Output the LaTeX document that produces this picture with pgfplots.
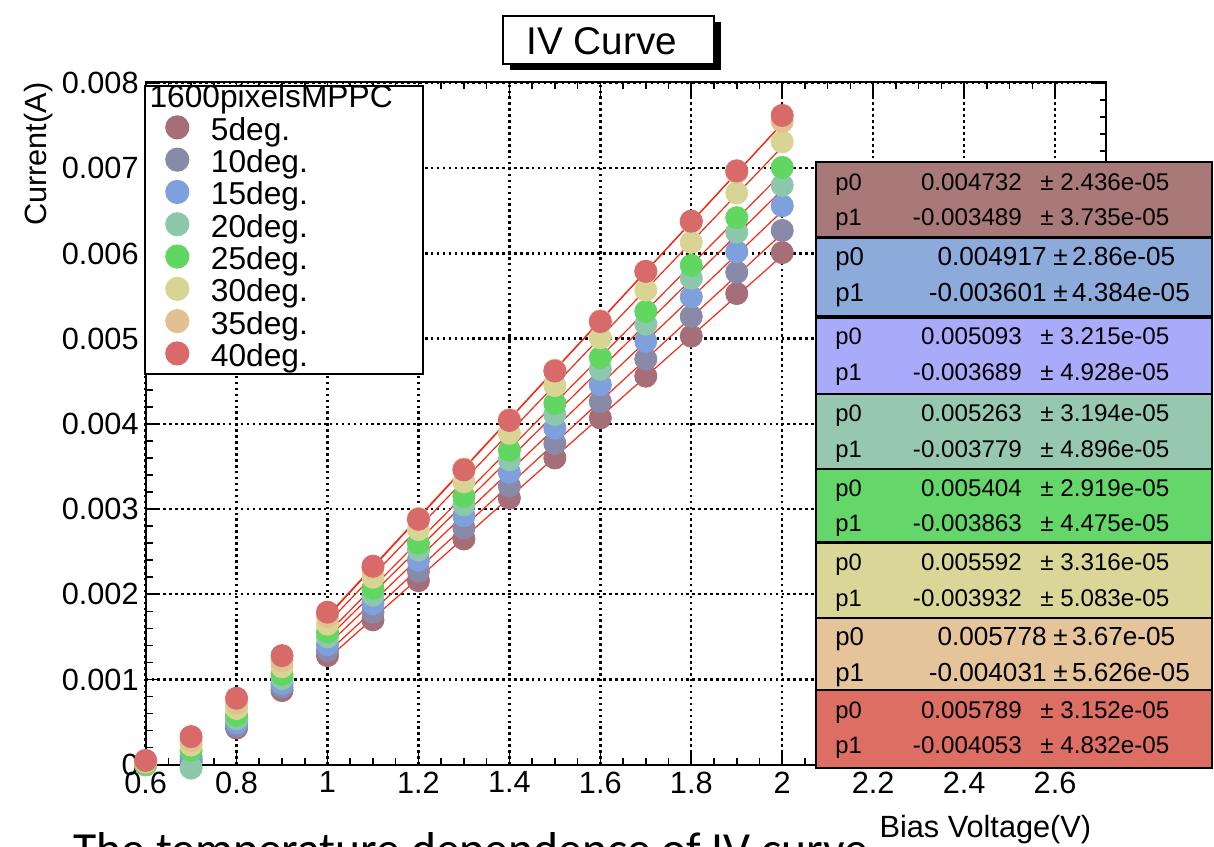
\documentclass[border=0pt]{standalone}
\usepackage{pgfplots}
\pgfplotsset{compat=1.18}
\usepackage{pgfplotstable}
\usepackage{fontspec}
\setmainfont{Liberation Sans}
\newfontfamily\carlito{Carlito}

\definecolor{m5}{RGB}{165,110,120}
\definecolor{m10}{RGB}{137,137,168}
\definecolor{m15}{RGB}{126,160,220}
\definecolor{m20}{RGB}{140,200,172}
\definecolor{m25}{RGB}{97,215,97}
\definecolor{m30}{RGB}{216,212,148}
\definecolor{m35}{RGB}{226,192,146}
\definecolor{m40}{RGB}{216,106,106}
\definecolor{b1}{RGB}{168,121,120}
\definecolor{b2}{RGB}{140,170,218}
\definecolor{b3}{RGB}{170,170,250}
\definecolor{b4}{RGB}{150,200,176}
\definecolor{b5}{RGB}{100,214,106}
\definecolor{b6}{RGB}{218,214,152}
\definecolor{b7}{RGB}{228,196,152}
\definecolor{b8}{RGB}{221,110,100}
\definecolor{fitred}{RGB}{245,40,20}

\pgfplotstableread{
x   d5       d10      d15      d20      d25      d30      d35      d40
0.6 0.00000  0.00000  0.00001  0.00000  0.00001  0.00003  0.00004  0.00005
0.7 0.00003  0.00006  0.00010  -0.00004 0.00017  0.00023  0.00028  0.00033
0.8 0.00043  0.00045  0.00049  0.00054  0.00058  0.00066  0.00072  0.00078
0.9 0.00087  0.00091  0.00095  0.00101  0.00106  0.00115  0.00122  0.00128
1.0 0.00128  0.00134  0.00141  0.00150  0.00156  0.00165  0.00174  0.00179
1.1 0.00170  0.00179  0.00189  0.00199  0.00207  0.00220  0.00231  0.00233
1.2 0.00216  0.00227  0.00240  0.00252  0.00260  0.00276  0.00289  0.00288
1.3 0.00265  0.00278  0.00292  0.00305  0.00315  0.00332  0.00347  0.00346
1.4 0.00313  0.00327  0.00343  0.00358  0.00369  0.00389  0.00405  0.00404
1.5 0.00360  0.00377  0.00395  0.00411  0.00424  0.00445  0.00463  0.00462
1.6 0.00407  0.00426  0.00446  0.00464  0.00478  0.00501  0.00521  0.00520
1.7 0.00456  0.00476  0.00497  0.00517  0.00532  0.00557  0.00579  0.00579
1.8 0.00503  0.00526  0.00549  0.00571  0.00586  0.00613  0.00637  0.00638
1.9 0.00553  0.00578  0.00602  0.00625  0.00642  0.00671  0.00695  0.00697
2.0 0.00601  0.00627  0.00656  0.00680  0.00701  0.00731  0.00755  0.00762
}\data

\newcommand\statbox[7]{%
  \filldraw[fill=#3,draw=black,line width=1pt] (824,#1) rectangle (1224,#2);
  \node[anchor=base west,inner sep=0pt,font=\fontsize{12}{14}\selectfont] at (843,#1+28) {p0};
  \node[anchor=base west,inner sep=0pt,font=\fontsize{12}{14}\selectfont] at (843,#1+64) {p1};
  \node[anchor=base east,inner sep=0pt,font=\fontsize{12.2}{14}\selectfont] at (1032,#1+28) {#4};
  \node[anchor=base east,inner sep=0pt,font=\fontsize{12.2}{14}\selectfont] at (1032,#1+64) {#6};
  \node[anchor=base west,inner sep=0pt,font=\fontsize{12.2}{14}\selectfont] at (1050,#1+28) {± #5};
  \node[anchor=base west,inner sep=0pt,font=\fontsize{12.2}{14}\selectfont] at (1050,#1+64) {± #7};
}
\newcommand\statboxL[7]{%
  \filldraw[fill=#3,draw=black,line width=1pt] (824,#1) rectangle (1224,#2);
  \node[anchor=base west,inner sep=0pt,font=\fontsize{13}{15}\selectfont] at (843,#1+28) {p0};
  \node[anchor=base west,inner sep=0pt,font=\fontsize{13}{15}\selectfont] at (843,#1+64) {p1};
  \node[anchor=base east,inner sep=0pt,font=\fontsize{13.2}{15}\selectfont] at (1057,#1+28) {#4};
  \node[anchor=base east,inner sep=0pt,font=\fontsize{13.2}{15}\selectfont] at (1057,#1+64) {#6};
  \node[anchor=base west,inner sep=0pt,font=\fontsize{13.2}{15}\selectfont] at (1063,#1+28) {±\,#5};
  \node[anchor=base west,inner sep=0pt,font=\fontsize{13.2}{15}\selectfont] at (1063,#1+64) {±\,#7};
}

\begin{document}
\begin{tikzpicture}
\begin{scope}[x=0.5pt,y=-0.5pt]
  \path[use as bounding box] (0,0) rectangle (1214,855);
  \node[anchor=base west,inner sep=0pt,font=\carlito\fontsize{24}{28}\selectfont] at (74,874) {The temperature dependence of IV curve};
\end{scope}
\begin{axis}[
  at={(73.5pt,-386pt)}, anchor=south west,
  scale only axis, width=485pt, height=344.5pt,
  xmin=0.6, xmax=2.713, ymin=0, ymax=0.00801,
  clip=false,
  scaled y ticks=false, scaled x ticks=false,
  xtick={0.6,0.8,1.0,1.2,1.4,1.6,1.8,2.0,2.2,2.4,2.6},
  xticklabels={0.6,0.8,1,1.2,1.4,1.6,1.8,2,2.2,2.4,2.6},
  ytick={0,0.001,0.002,0.003,0.004,0.005,0.006,0.007,0.008},
  yticklabels={0,0.001,0.002,0.003,0.004,0.005,0.006,0.007,0.008},
  minor x tick num=3, minor y tick num=4,
  tick align=inside,
  major tick length=7pt, minor tick length=3.5pt,
  tick style={black,line width=0.8pt},
  axis line style={black,line width=1pt},
  grid=major,
  major grid style={black,line width=1.2pt,dash pattern=on 1.3pt off 1.7pt},
  tick label style={font=\fontsize{15.5}{17}\selectfont},
  legend cell align=left,
  legend style={at={(rel axis cs:0,1)}, anchor=north west, xshift=-1pt, yshift=-1.5pt,
    draw=black, line width=1pt, fill=white, inner xsep=8.5pt, inner ysep=0pt,
    row sep=0.2pt, column sep=9pt, font=\fontsize{16}{18}\selectfont,
    nodes={inner sep=0pt, text height=11pt, text depth=4pt}},
  legend image code/.code={\path[draw=none,fill=none] (-8pt,0pt) rectangle (8pt,0pt); \draw[#1] plot coordinates {(0pt,3pt)};},
]
\addlegendimage{empty legend}
\addlegendentry{\hspace*{-31pt}1600pixelsMPPC\hspace*{7pt}}
\addplot[only marks, mark=*, mark size=5.6pt, color=m5] table[x=x,y=d5]{\data};
\addlegendentry{5deg.}
\addplot[only marks, mark=*, mark size=5.6pt, color=m10] table[x=x,y=d10]{\data};
\addlegendentry{10deg.}
\addplot[only marks, mark=*, mark size=5.6pt, color=m15] table[x=x,y=d15]{\data};
\addlegendentry{15deg.}
\addplot[only marks, mark=*, mark size=5.6pt, color=m20] table[x=x,y=d20]{\data};
\addlegendentry{20deg.}
\addplot[only marks, mark=*, mark size=5.6pt, color=m25] table[x=x,y=d25]{\data};
\addlegendentry{25deg.}
\addplot[only marks, mark=*, mark size=5.6pt, color=m30] table[x=x,y=d30]{\data};
\addlegendentry{30deg.}
\addplot[only marks, mark=*, mark size=5.6pt, color=m35] table[x=x,y=d35]{\data};
\addlegendentry{35deg.}
\addplot[only marks, mark=*, mark size=5.6pt, color=m40] table[x=x,y=d40]{\data};
\addlegendentry{40deg.}
\addplot[fitred, line width=0.6pt, forget plot] coordinates {(1,0.001243) (2,0.005975)};
\addplot[fitred, line width=0.6pt, forget plot] coordinates {(1,0.001316) (2,0.006233)};
\addplot[fitred, line width=0.6pt, forget plot] coordinates {(1,0.001404) (2,0.006497)};
\addplot[fitred, line width=0.6pt, forget plot] coordinates {(1,0.001484) (2,0.006747)};
\addplot[fitred, line width=0.6pt, forget plot] coordinates {(1,0.001541) (2,0.006945)};
\addplot[fitred, line width=0.6pt, forget plot] coordinates {(1,0.001660) (2,0.007252)};
\addplot[fitred, line width=0.6pt, forget plot] coordinates {(1,0.001747) (2,0.007525)};
\addplot[fitred, line width=0.6pt, forget plot] coordinates {(1,0.001736) (2,0.007525)};
\end{axis}
\begin{scope}[x=0.5pt,y=-0.5pt]
  % title
  \fill[black] (515,22) rectangle (728,71);
  \filldraw[fill=white,draw=black,line width=1pt] (508,16) rectangle (721,65);
  \node[anchor=base,inner sep=0pt,font=\fontsize{19.5}{21}\selectfont] at (607.5,55) {IV Curve};
  % axis titles
  \node[anchor=base east,inner sep=0pt,font=\fontsize{15.5}{17}\selectfont] at (1102,845) {Bias Voltage(V)};
  \node[rotate=90,anchor=base east,inner sep=0pt,font=\fontsize{15.5}{17}\selectfont] at (47,83) {Current(A)};
  % fit boxes
  \statbox{164}{240}{b1}{0.004732}{2.436e-05}{-0.003489}{3.735e-05}
  \statboxL{240}{320}{b2}{0.004917}{2.86e-05}{-0.003601}{4.384e-05}
  \statbox{320}{398}{b3}{0.005093}{3.215e-05}{-0.003689}{4.928e-05}
  \statbox{398}{473}{b4}{0.005263}{3.194e-05}{-0.003779}{4.896e-05}
  \statbox{473}{548}{b5}{0.005404}{2.919e-05}{-0.003863}{4.475e-05}
  \statbox{548}{624}{b6}{0.005592}{3.316e-05}{-0.003932}{5.083e-05}
  \statboxL{624}{697}{b7}{0.005778}{3.67e-05}{-0.004031}{5.626e-05}
  \statbox{697}{775}{b8}{0.005789}{3.152e-05}{-0.004053}{4.832e-05}
  \draw[black,line width=1.6pt] (824,240) -- (1224,240);
  \draw[black,line width=1.6pt] (824,320) -- (1224,320);
  \draw[black,line width=1.6pt] (824,548) -- (1224,548);
\end{scope}
\end{tikzpicture}
\end{document}
